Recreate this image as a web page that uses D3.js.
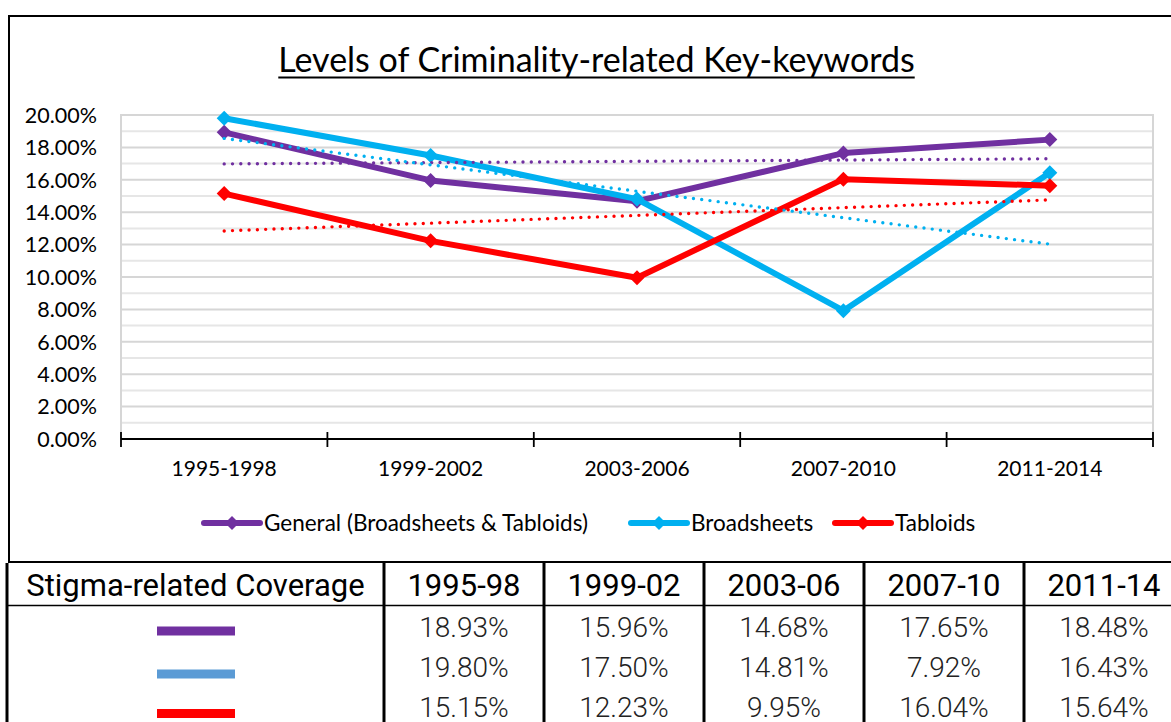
<!DOCTYPE html>
<html>
<head>
<meta charset="utf-8">
<script src="https://cdn.jsdelivr.net/npm/d3@7"></script>
<style>
  html, body { margin: 0; padding: 0; background: #fff; }
  svg { display: block; }
</style>
</head>
<body>
<svg id="chart" width="1171" height="722"></svg>
<script>
// Periods shown on the x axis and in the table header
const categories = ["1995-1998", "1999-2002", "2003-2006", "2007-2010", "2011-2014"];
const tableHeaders = ["1995-98", "1999-02", "2003-06", "2007-10", "2011-14"];

// Share of criminality-related key-keywords (%) per period
const generalValues = [18.93, 15.96, 14.68, 17.65, 18.48];
const broadsheetValues = [19.80, 17.50, 14.81, 7.92, 16.43];
const tabloidValues = [15.15, 12.23, 9.95, 16.04, 15.64];

const seriesNames = ["General (Broadsheets & Tabloids)", "Broadsheets", "Tabloids"];
const yTickValues = [0, 2, 4, 6, 8, 10, 12, 14, 16, 18, 20];
const tableTitle = "Stigma-related Coverage";
const chartTitle = "Levels of Criminality-related Key-keywords";

const series = [
  { name: seriesNames[0], values: generalValues, color: "#7030A0", tableColor: "#7030A0" },
  { name: seriesNames[1], values: broadsheetValues, color: "#00B0F0", tableColor: "#5B9BD5" },
  { name: seriesNames[2], values: tabloidValues, color: "#FF0000", tableColor: "#FF0000" }
];

const svg = d3.select("#chart");
const chartFont = "Lato, 'Liberation Sans', sans-serif";
const tableFont = "Roboto, 'Liberation Sans', sans-serif";

// Outer frame of the chart
svg.append("rect")
  .attr("x", 9).attr("y", 16).attr("width", 1175).attr("height", 546)
  .attr("fill", "#fff").attr("stroke", "#000").attr("stroke-width", 2);

// Title with underline
const title = svg.append("text")
  .attr("x", 596.5).attr("y", 72)
  .attr("text-anchor", "middle")
  .attr("font-family", chartFont).attr("font-size", 34)
  .attr("fill", "#000")
  .text(chartTitle);
const tb = title.node().getBBox();
svg.append("line")
  .attr("x1", tb.x).attr("x2", tb.x + tb.width)
  .attr("y1", 77.5).attr("y2", 77.5)
  .attr("stroke", "#000").attr("stroke-width", 1.8);

// Plot area
const plot = { left: 121, right: 1153, top: 115, bottom: 439 };

const x = d3.scaleBand().domain(categories).range([plot.left, plot.right]);
const y = d3.scaleLinear().domain([0, 20]).range([plot.bottom, plot.top]);
const cx = c => x(c) + x.bandwidth() / 2;

// Horizontal gridlines: darker at labelled ticks, lighter in between
const g = svg.append("g");
const minorVals = d3.range(1, 20, 2);
g.selectAll(".minor").data(minorVals).join("line")
  .attr("x1", plot.left).attr("x2", plot.right)
  .attr("y1", d => y(d)).attr("y2", d => y(d))
  .attr("stroke", "#e6e6e6").attr("stroke-width", 2);
g.selectAll(".major").data(yTickValues.filter(v => v > 0)).join("line")
  .attr("x1", plot.left).attr("x2", plot.right)
  .attr("y1", d => y(d)).attr("y2", d => y(d))
  .attr("stroke", "#d6d6d6").attr("stroke-width", 2);

// Plot area border (left, top, right)
svg.append("path")
  .attr("d", `M${plot.left},${plot.bottom} V${plot.top} H${plot.right} V${plot.bottom}`)
  .attr("fill", "none").attr("stroke", "#d6d6d6").attr("stroke-width", 2);

// Y axis labels
svg.append("g").selectAll("text").data(yTickValues).join("text")
  .attr("x", 97).attr("y", d => y(d))
  .attr("dy", "0.36em")
  .attr("text-anchor", "end")
  .attr("font-family", chartFont).attr("font-size", 21.5)
  .attr("fill", "#000")
  .text(d => d3.format(".2f")(d) + "%");

// X axis line with boundary ticks crossing it
const xAxis = svg.append("g");
xAxis.append("line")
  .attr("x1", plot.left).attr("x2", plot.right)
  .attr("y1", plot.bottom).attr("y2", plot.bottom)
  .attr("stroke", "#000").attr("stroke-width", 2);
const boundaries = categories.map(c => x(c)).concat([x(categories[categories.length - 1]) + x.bandwidth()]);
xAxis.selectAll(".tick").data(boundaries).join("line")
  .attr("x1", d => d).attr("x2", d => d)
  .attr("y1", plot.bottom - 7).attr("y2", plot.bottom + 8)
  .attr("stroke", "#000").attr("stroke-width", 1.8);
xAxis.selectAll("text").data(categories).join("text")
  .attr("x", d => cx(d)).attr("y", 476)
  .attr("text-anchor", "middle")
  .attr("font-family", chartFont).attr("font-size", 21)
  .attr("fill", "#000")
  .text(d => d);

// Diamond marker path
const diamond = (r) => `M0,${-r} L${r},0 L0,${r} L${-r},0 Z`;

// Series lines with diamond markers
const line = d3.line().x((d, i) => cx(categories[i])).y(d => y(d));
series.forEach(s => {
  svg.append("path")
    .attr("d", line(s.values))
    .attr("fill", "none").attr("stroke", s.color)
    .attr("stroke-width", 6).attr("stroke-linejoin", "round");
  svg.append("g").selectAll("path").data(s.values).join("path")
    .attr("transform", (d, i) => `translate(${cx(categories[i])},${y(d)})`)
    .attr("d", diamond(7.5))
    .attr("fill", s.color);
});

// Linear trendlines (least squares over period index), dotted
series.forEach(s => {
  const xs = d3.range(1, s.values.length + 1);
  const mx = d3.mean(xs), my = d3.mean(s.values);
  const slope = d3.sum(xs, (xi, i) => (xi - mx) * (s.values[i] - my)) / d3.sum(xs, xi => (xi - mx) ** 2);
  const fit = xs.map(xi => my + slope * (xi - mx));
  svg.append("path")
    .attr("d", line(fit))
    .attr("fill", "none").attr("stroke", s.color)
    .attr("stroke-width", 3.4).attr("stroke-linecap", "round")
    .attr("stroke-dasharray", "0 8.3");
});

// Legend
const legendX = [204, 631, 835];
const legendY = 523;
series.forEach((s, i) => {
  const lg = svg.append("g").attr("transform", `translate(${legendX[i]},${legendY})`);
  lg.append("line").attr("x1", 0).attr("x2", 56).attr("y1", 0).attr("y2", 0)
    .attr("stroke", s.color).attr("stroke-width", 6).attr("stroke-linecap", "round");
  lg.append("path").attr("transform", "translate(28,0)").attr("d", diamond(7)).attr("fill", s.color);
  lg.append("text").attr("x", 60).attr("y", 0).attr("dy", "0.36em")
    .attr("font-family", chartFont).attr("font-size", 22.5).attr("fill", "#000")
    .text(s.name);
});

// Summary table below the chart
const colEdges = [7, 384, 544, 704, 864, 1024, 1184];
const table = svg.append("g");
table.append("line")
  .attr("x1", 7).attr("x2", 1184).attr("y1", 605.5).attr("y2", 605.5)
  .attr("stroke", "#000").attr("stroke-width", 1.5);
table.selectAll(".vline").data(colEdges.slice(0, 6)).join("line")
  .attr("x1", d => d).attr("x2", d => d)
  .attr("y1", 563).attr("y2", 722)
  .attr("stroke", "#000").attr("stroke-width", 3);

const colCenter = i => (colEdges[i] + colEdges[i + 1]) / 2;
table.append("text")
  .attr("x", colCenter(0)).attr("y", 596)
  .attr("text-anchor", "middle")
  .attr("font-family", tableFont).attr("font-size", 31).attr("fill", "#000")
  .text(tableTitle);
table.selectAll(".hdr").data(tableHeaders).join("text")
  .attr("x", (d, i) => colCenter(i + 1)).attr("y", 596)
  .attr("text-anchor", "middle")
  .attr("font-family", tableFont).attr("font-size", 31).attr("fill", "#000")
  .text(d => d);

const rowBaselines = [636.7, 676.7, 716.7];
const swatchY = [631, 674, 713.5];
series.forEach((s, r) => {
  table.append("rect")
    .attr("x", 157).attr("y", swatchY[r] - 4.5)
    .attr("width", 78).attr("height", 9)
    .attr("fill", s.tableColor);
  table.append("g").selectAll("text").data(s.values).join("text")
    .attr("x", (d, i) => colCenter(i + 1)).attr("y", rowBaselines[r])
    .attr("text-anchor", "middle")
    .attr("font-family", tableFont).attr("font-weight", 300)
    .attr("font-size", 28).attr("fill", "#222")
    .text(d => d3.format(".2f")(d) + "%");
});
</script>
</body>
</html>
